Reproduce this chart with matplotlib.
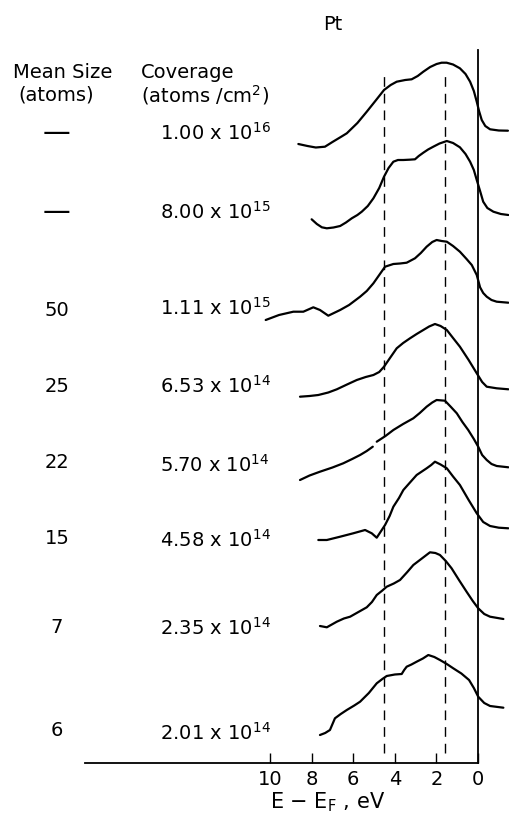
import matplotlib
matplotlib.use("Agg")
import matplotlib.pyplot as plt
import numpy as np

# spectra: E - E_F (eV) and intensity (arb. units)
mean_size = ["\u2014", "\u2014", "50", "25", "22", "15", "7", "6"]
coverage = [r"1.00 x 10$^{16}$", r"8.00 x 10$^{15}$", r"1.11 x 10$^{15}$",
            r"6.53 x 10$^{14}$", r"5.70 x 10$^{14}$", r"4.58 x 10$^{14}$",
            r"2.35 x 10$^{14}$", r"2.01 x 10$^{14}$"]

e1 = [8.64, 8.2, 7.8, 7.36, 7.0, 6.6, 6.31, 5.8, 5.35, 4.9, 4.52, 4.2, 3.91, 3.5, 3.19, 2.9, 2.63, 2.3,
      1.99, 1.75, 1.51, 1.2, 0.87, 0.6, 0.38, 0.2, 0.06, -0.05, -0.18, -0.35, -0.58, -1.0, -1.44]
i1 = [-13, -15, -16.5, -15.7, -11, -6, -2.3, 8, 19.3, 31, 41, 46, 49.3, 51, 51.7, 55, 59.3, 64,
      67, 68.3, 68.3, 66.5, 62.7, 57, 49.3, 40, 29.3, 20, 11, 5, 1.7, 0.5, 0.3]

e2 = [8.0, 7.75, 7.51, 7.27, 6.95, 6.63, 6.35, 6.07, 5.8, 5.59, 5.3, 5.03, 4.75, 4.52, 4.3, 4.07, 3.85,
      3.59, 3.3, 3.03, 2.85, 2.63, 2.4, 2.15, 1.85, 1.50, 1.2, 0.87, 0.6, 0.38, 0.2, 0.06, -0.1, -0.25,
      -0.45, -0.74, -1.1, -1.46]
i2 = [-4.3, -9, -12.3, -13.3, -12.5, -11, -7.5, -3.3, 0, 3.3, 9, 16.7, 27, 38.3, 47, 53.3, 55,
      55, 55.3, 55.7, 59, 62.3, 65.5, 68.3, 71.5, 74, 72, 67.7, 61, 53.3, 45, 35, 24, 13.3,
      7, 3.3, 1, 0]

e3 = [10.21, 9.57, 8.88, 8.40, 7.92, 7.60, 7.20, 6.63, 6.2, 5.67, 5.35, 5.03, 4.75, 4.47, 4.07, 3.75,
      3.43, 3.03, 2.75, 2.47, 2.2, 1.99, 1.75, 1.50, 1.2, 0.87, 0.55, 0.30, 0.06, -0.10, -0.25, -0.42,
      -0.65, -0.90, -1.46]
i3 = [-17, -12, -8.7, -8.7, -4.3, -7, -12.7, -7, -2, 6.3, 12, 19.7, 28, 36.3, 39, 39.5,
      40.3, 44.7, 50, 56.3, 61, 63, 62, 61.3, 57, 51.3, 44, 38, 28, 15.7, 10, 6.3,
      3, 1.3, 0.3]

e4 = [8.56, 8.1, 7.68, 7.2, 6.79, 6.3, 5.83, 5.4, 5.03, 4.75, 4.52, 4.2, 3.91, 3.6, 3.27, 2.95, 2.63,
      2.35, 2.07, 1.8, 1.50, 1.2, 0.87, 0.45, 0.06, -0.2, -0.42, -0.90, -1.46]
i4 = [-7.7, -7, -6, -3.5, -0.3, 4.5, 9, 12, 14, 17, 22.3, 32, 40.7, 46, 50.7, 55, 59,
      62.5, 65, 63, 59, 51, 42.3, 29, 15.7, 7, 2.3, 0.7, -0.3]

e5 = [8.56, 8.1, 7.60, 7.0, 6.48, 6.05, 5.67, 5.35, 5.06, 4.95, 4.87, 4.45, 4.07, 3.6, 3.11, 2.8, 2.47,
      2.2, 1.99, 1.59, 1.3, 1.02, 0.75, 0.47, 0.2, -0.01, -0.2, -0.42, -0.65, -0.90, -1.46]
i5 = [-13, -8.5, -4.7, -0.5, 3.7, 8, 12, 16, 20.3, np.nan, 25.3, 31, 37, 43, 48.7, 54, 60.3,
      64.5, 67, 66.3, 60, 53.7, 45, 37, 28, 20.3, 12, 7, 3, 1, -0.3]

e6 = [7.68, 7.27, 6.63, 6.0, 5.43, 5.11, 4.87, 4.47, 4.25, 4.07, 3.8, 3.59, 3.25, 2.95, 2.7, 2.47, 2.25,
      2.07, 1.8, 1.50, 1.2, 0.87, 0.45, 0.06, -0.25, -0.58, -1.0, -1.46]
i6 = [-12, -12, -8.7, -5.3, -2, -5.3, -9.7, 3, 12, 21.3, 30, 38, 46, 53, 56.5, 59.7, 63,
      66.3, 63.5, 59.7, 51.5, 43, 28, 14.7, 6, 2, 0.3, -0.3]

e7 = [7.60, 7.27, 6.79, 6.45, 6.15, 5.75, 5.35, 5.1, 4.87, 4.6, 4.39, 4.05, 3.75, 3.4, 3.11, 2.7, 2.31,
      2.05, 1.83, 1.55, 1.27, 0.9, 0.55, 0.25, -0.01, -0.3, -0.58, -1.22]
i7 = [-7, -8.3, -2.7, 0.5, 2.3, 7, 11.7, 17, 24, 28.5, 32.3, 35.5, 39, 47, 54, 60.5, 66.7,
      66, 64, 58, 50.7, 38.5, 27.3, 18, 10.7, 5, 2.3, 0]

e8 = [7.60, 7.35, 7.12, 6.88, 6.6, 6.31, 5.95, 5.67, 5.25, 4.87, 4.6, 4.39, 4.0, 3.67, 3.55, 3.43, 3.2,
      2.95, 2.65, 2.39, 2.1, 1.83, 1.5, 1.19, 0.8, 0.43, 0.2, -0.01, -0.3, -0.58, -1.22]
i8 = [-27, -25, -22, -10.3, -6, -2, 2.5, 6.3, 15, 24.7, 29, 32, 33.5, 34, 38, 41.3, 43.5,
      46.3, 49.5, 53, 51, 48, 44, 39.7, 34.5, 28, 20, 11.3, 5, 2, 0.3]

energies = [e1, e2, e3, e4, e5, e6, e7, e8]
intensities = [i1, i2, i3, i4, i5, i6, i7, i8]
offsets = [632, 548, 460, 374, 296, 235, 144, 55]   # vertical stacking

W, H = 509, 822
fig = plt.figure(figsize=(W / 100, H / 100), dpi=100)
ax = fig.add_axes([85 / W, (H - 763) / H, (478 - 85) / W, (763 - 50) / H])
ax.set_xlim(18.9, 0)
ax.set_ylim(0, 713)

for e, inten, off in zip(energies, intensities, offsets):
    ax.plot(e, np.array(inten) + off, color="black", lw=1.6, clip_on=False,
            solid_joinstyle="round", solid_capstyle="round")

for xd in (4.5, 1.6):
    ax.axvline(xd, ymin=0.014, ymax=0.968, color="black", lw=1.0,
               ls=(0, (7, 5)))

ax.spines["top"].set_visible(False)
ax.spines["left"].set_visible(False)
ax.spines["bottom"].set_linewidth(1.3)
ax.spines["right"].set_linewidth(1.3)
ax.set_yticks([])
ax.set_xticks([10, 8, 6, 4, 2, 0])
ax.tick_params(axis="x", direction="in", length=7, width=1.0,
               labelsize=14, pad=5)
ax.set_facecolor("none")

fs = 14

def ftext(x, y, s, **kw):
    fig.text(x / W, 1 - y / H, s, va="center", **kw)

ftext(333, 24, "Pt", ha="center", fontsize=fs)
ftext(63, 73, "Mean Size", ha="center", fontsize=fs)
ftext(56, 95, "(atoms)", ha="center", fontsize=fs)
ftext(188, 73, "Coverage", ha="center", fontsize=fs)
ftext(205, 95, r"(atoms /cm$^2$)", ha="center", fontsize=fs)

size_y = [133, 212, 310, 386, 462, 538, 627, 730]
cov_y = [133, 212, 308, 386, 465, 540, 628, 733]
for s, c, ys, yc in zip(mean_size, coverage, size_y, cov_y):
    ftext(57, ys, s, ha="center", fontsize=20 if s == "\u2014" else fs)
    ftext(160, yc, c, ha="left", fontsize=fs)

ftext(328, 802, r"E $-$ E$_\mathrm{F}$ , eV", ha="center", fontsize=15)

fig.savefig("out.png", dpi=100)
